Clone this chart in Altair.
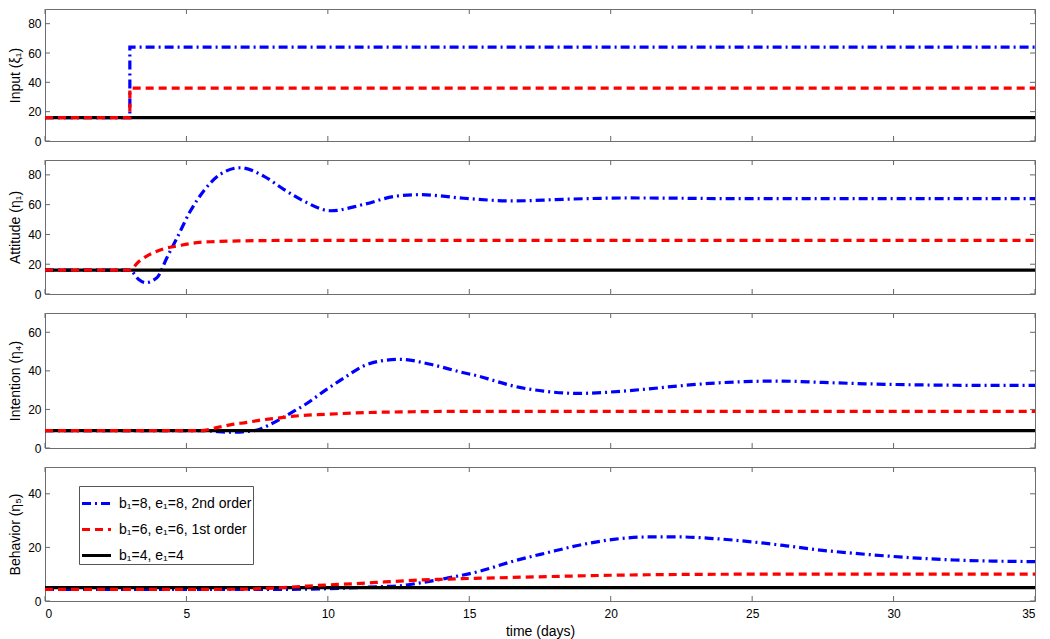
import altair as alt
import pandas as pd

SERIES = ["b₁=8, e₁=8, 2nd order", "b₁=6, e₁=6, 1st order", "b₁=4, e₁=4"]
COLORS = ["#0000ff", "#ff0000", "#000000"]
DASHES = [[9, 4, 2, 4], [8, 5], [1, 0]]

x_ticks = [0, 5, 10, 15, 20, 25, 30, 35]

# Panel 1: Input (xi_1)
p1_blue_t = [0, 3, 3, 35]
p1_blue_v = [16, 16, 64, 64]
p1_red_t = [0, 3, 3, 35]
p1_red_v = [16, 16, 36, 36]
p1_black_t = [0, 35]
p1_black_v = [16, 16]

# Panel 2: Attitude (eta_1)
p2_blue_t = [0, 3, 3.3, 3.55, 3.96, 4.31, 4.67, 5.14, 5.61, 6.2, 6.9, 7.73, 8.44, 9.14,
             10.1, 11.27, 12.44, 13.3, 14.8, 16.57, 18.33, 20.7, 25, 35]
p2_blue_v = [16, 16, 10, 7.6, 11, 24.4, 37.8, 55.7, 69.2, 80.4, 84.8, 79.2, 70.3, 62.5,
             55.9, 60.2, 65.8, 66.7, 64.3, 62.5, 63.6, 64.5, 64, 64]
p2_red_t = [0, 3, 3.3, 3.6, 3.9, 4.2, 4.67, 5.37, 6, 7, 9, 35]
p2_red_v = [16, 16, 21.5, 25.5, 28.3, 30.4, 32.2, 34.5, 35.2, 35.7, 36, 36]
p2_black_t = [0, 35]
p2_black_v = [16, 16]

# Panel 3: Intention (eta_4)
p3_blue_t = [0, 5.7, 6.1, 6.55, 7.0, 7.5, 7.97, 8.4, 8.67, 9.14, 9.97, 10.67, 11.26, 11.85,
             12.56, 13.62, 14.8, 15.27, 15.86, 16.45, 17.63, 18.8, 19.98, 21.16, 22.34,
             23.5, 24.7, 25.9, 27.5, 29, 31, 33, 35]
p3_blue_v = [9, 9, 8.5, 8.2, 8.4, 9.3, 12.3, 15.7, 18, 22, 30.5, 37.3, 42.5, 45.1,
             46, 43.4, 39, 37.5, 35, 32.5, 29.5, 28.3, 29, 30.4, 32.1,
             33.5, 34.4, 34.7, 34, 33.3, 32.7, 32.5, 32.5]
p3_red_t = [0, 5.5, 6.0, 6.55, 7.14, 7.73, 8.3, 8.8, 10, 11, 13, 15, 35]
p3_red_v = [9, 9, 10.3, 12, 13.3, 14.7, 15.6, 16.5, 17.5, 18.2, 18.8, 19, 19]
p3_black_t = [0, 35]
p3_black_v = [9, 9]

# Panel 4: Behavior (eta_5)
p4_blue_t = [0, 8, 10, 11, 12, 12.56, 13.4, 14.2, 15.4, 16.57, 17.75, 18.92, 20.1, 21.3,
             22.5, 23.5, 25.05, 26.2, 27.4, 28.6, 29.76, 31, 32.12, 33.5, 35]
p4_blue_v = [4.3, 4.3, 4.6, 5.0, 5.4, 5.7, 7, 8.5, 11.2, 14.9, 18, 20.9, 23, 23.9,
             23.9, 23.4, 22, 20.6, 19, 17.8, 16.8, 15.9, 15.3, 14.9, 14.7]
p4_red_t = [0, 7, 8, 9, 10, 11, 12, 13, 14, 15.4, 17.75, 20, 22.5, 25, 35]
p4_red_v = [4.3, 4.4, 4.8, 5.4, 6.0, 6.5, 7.1, 7.7, 8.1, 8.5, 9.1, 9.6, 9.9, 10, 10]
p4_black_t = [0, 35]
p4_black_v = [5, 5]

FONT = "Liberation Sans"
W = 990
TICK_COLOR = "#666666"


def series_df(ts, vs, name):
    return pd.DataFrame({"t": ts, "v": vs, "series": [name] * len(ts)})


def make_panel(ytitle, ymax, yticks, data, height, bottom=False, legend=False, interp="monotone"):
    xscale = alt.Scale(domain=[0, 35], nice=False, zero=False)
    yscale = alt.Scale(domain=[0, ymax], nice=False, zero=False)
    if bottom:
        xaxis = alt.Axis(values=x_ticks, title="time (days)", labelPadding=7, titlePadding=5,
                         ticks=False, domain=False, grid=False)
    else:
        xaxis = None
    yaxis = alt.Axis(values=yticks, title=ytitle, labelPadding=4, titlePadding=5,
                     ticks=False, domain=False, grid=False)
    if legend:
        leg = alt.Legend(orient="none", legendX=34, legendY=19, title=None,
                         symbolType="stroke", symbolSize=841, symbolStrokeWidth=3.2,
                         labelFont=FONT, labelFontSize=14, labelColor="black",
                         strokeColor="#555555", fillColor="white", padding=1,
                         rowPadding=2, labelOffset=6, labelLimit=400)
    else:
        leg = None
    color = alt.Color("series:N", scale=alt.Scale(domain=SERIES, range=COLORS), legend=leg)
    dash = alt.StrokeDash("series:N", scale=alt.Scale(domain=SERIES, range=DASHES), legend=leg)

    def X(field):
        return alt.X(field, scale=xscale, axis=xaxis)

    def Y(field):
        return alt.Y(field, scale=yscale, axis=yaxis)

    layers = []
    # lines: blue, black, red (drawing order)
    for idx, key in [(0, "blue"), (2, "black"), (1, "red")]:
        ts, vs = data[key]
        df = series_df(ts, vs, SERIES[idx])
        layers.append(
            alt.Chart(df).mark_line(strokeWidth=3.2, interpolate=interp, strokeCap="butt")
            .encode(x=X("t:Q"), y=Y("v:Q"), color=color, strokeDash=dash)
        )
    xt = pd.DataFrame({"t": x_ticks})
    yt = pd.DataFrame({"v": yticks})
    tick_mark = dict(color=TICK_COLOR, strokeWidth=1)
    layers.append(alt.Chart(xt).mark_rule(**tick_mark).encode(
        x=X("t:Q"), y=alt.value(0), y2=alt.value(5)))
    layers.append(alt.Chart(xt).mark_rule(**tick_mark).encode(
        x=X("t:Q"), y=alt.value(height), y2=alt.value(height - 5)))
    layers.append(alt.Chart(yt).mark_rule(**tick_mark).encode(
        y=Y("v:Q"), x=alt.value(0), x2=alt.value(5)))
    layers.append(alt.Chart(yt).mark_rule(**tick_mark).encode(
        y=Y("v:Q"), x=alt.value(W), x2=alt.value(W - 5)))
    return alt.layer(*layers).properties(width=W, height=height)


p1 = make_panel("Input (ξ₁)", 90, [0, 20, 40, 60, 80],
                {"blue": (p1_blue_t, p1_blue_v), "red": (p1_red_t, p1_red_v),
                 "black": (p1_black_t, p1_black_v)}, 132, interp="linear")
p2 = make_panel("Attitude (η₁)", 90, [0, 20, 40, 60, 80],
                {"blue": (p2_blue_t, p2_blue_v), "red": (p2_red_t, p2_red_v),
                 "black": (p2_black_t, p2_black_v)}, 134)
p3 = make_panel("Intention (η₄)", 70, [0, 20, 40, 60],
                {"blue": (p3_blue_t, p3_blue_v), "red": (p3_red_t, p3_red_v),
                 "black": (p3_black_t, p3_black_v)}, 135)
p4 = make_panel("Behavior (η₅)", 50, [0, 20, 40],
                {"blue": (p4_blue_t, p4_blue_v), "red": (p4_red_t, p4_red_v),
                 "black": (p4_black_t, p4_black_v)}, 134, bottom=True, legend=True)

chart = (
    alt.vconcat(p1, p2, p3, p4, spacing=19, bounds="flush")
    .resolve_scale(color="independent", strokeDash="independent")
    .properties(padding={"left": 0, "top": 0, "right": 0, "bottom": 0}, background="white")
    .configure_view(stroke="#6e6e6e", strokeWidth=1)
    .configure_axis(labelFont=FONT, labelFontSize=12, labelColor="black",
                    titleFont=FONT, titleFontSize=14, titleFontWeight="normal",
                    titleColor="black")
)

chart.save("out.html", embed_options={"renderer": "svg", "actions": False})
